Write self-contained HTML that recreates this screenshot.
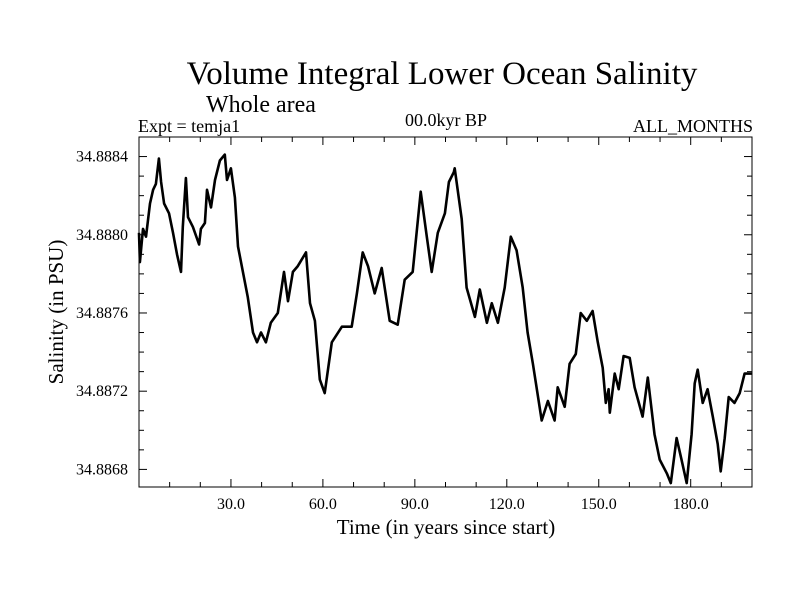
<!DOCTYPE html>
<html><head><meta charset="utf-8"><style>
body{margin:0;background:#fff;}
svg text{font-family:"Liberation Serif",serif;fill:#000;}
</style></head><body>
<svg id="chart" width="800" height="600" viewBox="0 0 800 600" xmlns="http://www.w3.org/2000/svg">
<rect width="800" height="600" fill="#fff"/>
<text x="442" y="84" font-size="33" text-anchor="middle">Volume Integral Lower Ocean Salinity</text>
<text x="206" y="112" font-size="24">Whole area</text>
<text x="138" y="132" font-size="18">Expt = temja1</text>
<text x="446" y="126" font-size="18" text-anchor="middle">00.0kyr BP</text>
<text x="753" y="132" font-size="18" text-anchor="end">ALL_MONTHS</text>
<text transform="translate(63,312) rotate(-90)" font-size="21" text-anchor="middle">Salinity (in PSU)</text>
<text x="446" y="534" font-size="21" text-anchor="middle">Time (in years since start)</text>
<g id="ticks"></g>
<g id="series"></g>
<rect x="139" y="137" width="613" height="350" fill="none" stroke="#000" stroke-width="1"/>
</svg>
<script>
const years=[0,0.3,1.3,2.3,3.6,4.6,5.5,6.5,7.2,8.2,9.8,11.1,12.4,13.7,14.3,15.3,16.0,17.6,19.6,20.2,21.5,22.2,23.5,24.8,26.4,28.0,28.7,30.0,31.3,32.3,33.9,35.5,37.2,38.5,39.8,41.4,43.0,45.3,47.3,48.6,50.2,51.8,54.5,55.8,57.4,59.0,60.6,62.9,66.2,69.4,71.1,73.0,74.7,76.9,79.2,81.8,84.4,86.7,89.3,91.9,93.9,95.5,97.5,99.8,101.1,102.7,103.0,105.3,106.9,109.6,111.2,113.5,115.1,117.1,119.3,121.3,123.2,125.2,126.8,128.5,131.4,133.4,135.6,136.6,138.9,140.5,142.5,144.1,146.1,148.0,149.7,151.3,152.3,153.2,153.6,155.2,156.5,158.1,160.1,161.7,164.3,166.0,168.2,169.9,172.2,173.5,175.4,177.0,178.7,180.3,181.3,182.3,183.9,185.5,187.2,188.8,189.8,191.1,192.4,194.3,196.0,197.6,199.2,200];
const salinity=[34.88801,34.88786,34.88803,34.88799,34.88816,34.88823,34.88826,34.88839,34.88827,34.88816,34.88811,34.88801,34.88790,34.88781,34.88804,34.88829,34.88809,34.88804,34.88795,34.88803,34.88806,34.88823,34.88814,34.88828,34.88838,34.88841,34.88828,34.88834,34.88819,34.88794,34.88781,34.88768,34.88750,34.88745,34.88750,34.88745,34.88755,34.88760,34.88781,34.88766,34.88781,34.88784,34.88791,34.88765,34.88756,34.88726,34.88719,34.88745,34.88753,34.88753,34.88770,34.88791,34.88784,34.88770,34.88783,34.88756,34.88754,34.88777,34.88781,34.88822,34.88799,34.88781,34.88801,34.88811,34.88827,34.88832,34.88834,34.88808,34.88773,34.88758,34.88772,34.88755,34.88765,34.88755,34.88773,34.88799,34.88792,34.88773,34.88750,34.88734,34.88705,34.88715,34.88705,34.88722,34.88712,34.88734,34.88739,34.88760,34.88756,34.88761,34.88745,34.88732,34.88714,34.88721,34.88709,34.88729,34.88721,34.88738,34.88737,34.88722,34.88707,34.88727,34.88698,34.88685,34.88678,34.88673,34.88696,34.88685,34.88673,34.88698,34.88724,34.88731,34.88714,34.88721,34.88707,34.88693,34.88679,34.88696,34.88717,34.88714,34.88719,34.88729,34.88729,34.88729];
const xMajor=[30,60,90,120,150,180];
const xTickLabels=["30.0","60.0","90.0","120.0","150.0","180.0"];
const yMajor=[34.8868,34.8872,34.8876,34.8880,34.8884];
const yTickLabels=["34.8868","34.8872","34.8876","34.8880","34.8884"];
const X0=139,X1=752,Y0=487,Y1=137,XMIN=0,XMAX=200,YMIN=34.88671,YMAX=34.88850;
function sx(v){return X0+(v-XMIN)/(XMAX-XMIN)*(X1-X0);}
function sy(v){return Y0-(v-YMIN)/(YMAX-YMIN)*(Y0-Y1);}
const NS='http://www.w3.org/2000/svg';
const tg=document.getElementById('ticks');
function line(x1,y1,x2,y2,name){const l=document.createElementNS(NS,'line');l.setAttribute('x1',x1);l.setAttribute('y1',y1);l.setAttribute('x2',x2);l.setAttribute('y2',y2);l.setAttribute('stroke','#000');l.setAttribute('stroke-width','1');


tg.appendChild(l);}
for(let t=10;t<200;t+=10){const x=sx(t);const len=(t%30===0)?8:5;line(x,Y0,x,Y0-len,'x-tick');line(x,Y1,x,Y1+len,'x-tick-top');}
for(let k=0;k<18;k++){const v=34.8867+k*0.0001;if(v<YMIN||v>YMAX)continue;const y=sy(v);const major=(k%4===1);const len=major?8:5;line(X0,y,X0+len,y,'y-tick');line(X1,y,X1-len,y,'y-tick-right');}
xMajor.forEach((v,i)=>{const t=document.createElementNS(NS,'text');t.setAttribute('x',sx(v));t.setAttribute('y',509);t.setAttribute('font-size','16');t.setAttribute('text-anchor','middle');t.textContent=xTickLabels[i];


tg.appendChild(t);});
yMajor.forEach((v,i)=>{const t=document.createElementNS(NS,'text');t.setAttribute('x',128);t.setAttribute('y',sy(v)+5);t.setAttribute('font-size','16');t.setAttribute('text-anchor','end');t.textContent=yTickLabels[i];


tg.appendChild(t);});
const p=document.createElementNS(NS,'path');
p.setAttribute('d',years.map((v,i)=>(i?'L':'M')+sx(v).toFixed(1)+','+sy(salinity[i]).toFixed(1)).join(''));
p.setAttribute('fill','none');p.setAttribute('stroke','#000');p.setAttribute('stroke-width','2.6');p.setAttribute('stroke-linejoin','round');


document.getElementById('series').appendChild(p);
</script>
</body></html>
